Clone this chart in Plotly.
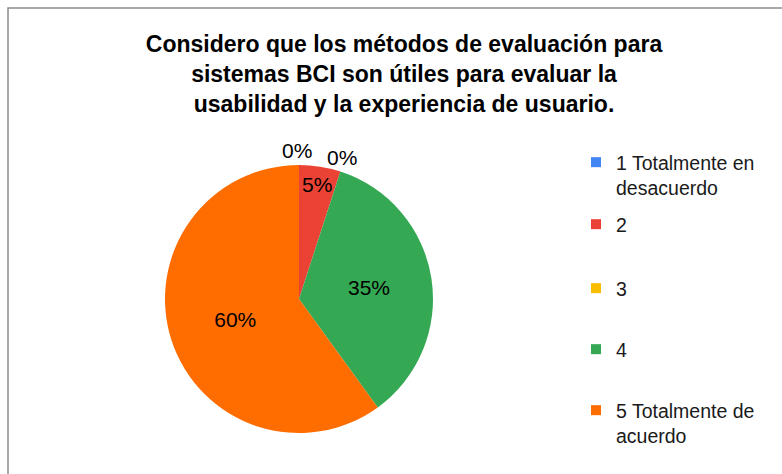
import numpy as np
import plotly.graph_objects as go

# Survey answers on a 1-5 agreement scale
categories = ["1 Totalmente en<br>desacuerdo", "2", "3", "4", "5 Totalmente de<br>acuerdo"]
shares = [0, 5, 0, 35, 60]
colors = ["#4285F4", "#EA4335", "#FBBC04", "#34A853", "#FF6D01"]
title_text = ("Considero que los métodos de evaluación para<br>"
              "sistemas BCI son útiles para evaluar la<br>"
              "usabilidad y la experiencia de usuario.")

W, H = 782, 474
FONT = "Liberation Sans, Arial, sans-serif"

# pie placement in pixels (left, right, top, bottom)
PIE_L, PIE_R, PIE_T, PIE_B = 165, 433, 165, 433

fig = go.Figure()

# non-zero answers carry their percentage inside the slice
inside_text = [f"{v / sum(shares):.0%}" if v > 0 else "" for v in shares]

fig.add_trace(go.Pie(
    labels=categories,
    values=shares,
    marker=dict(colors=colors, line=dict(width=0)),
    sort=False,
    direction="clockwise",
    rotation=0,
    text=inside_text,
    textinfo="text",
    textposition="inside",
    insidetextorientation="horizontal",
    textfont=dict(family=FONT, size=21, color="#000000"),
    showlegend=False,
    hoverinfo="label+percent",
    domain=dict(x=[PIE_L / W, PIE_R / W], y=[(H - PIE_B) / H, (H - PIE_T) / H]),
))

# zero answers have no slice area, so their label sits just outside the rim
# at the angle where that (empty) slice would be
cx, cy = (PIE_L + PIE_R) / 2, (PIE_T + PIE_B) / 2
radius = (PIE_R - PIE_L) / 2
start_deg = 360 * np.concatenate([[0], np.cumsum(shares)[:-1]]) / sum(shares)
annotations = []
for v, a in zip(shares, start_deg):
    if v != 0:
        continue
    t = np.radians(a)
    px = cx - 2 + (radius + 13) * np.sin(t)
    py = cy - (radius + 15) * np.cos(t)
    annotations.append(dict(
        text=f"{v / sum(shares):.0%}", x=px / W, y=1 - py / H,
        xref="paper", yref="paper", xanchor="center", yanchor="middle",
        showarrow=False, font=dict(family=FONT, size=21, color="#000000"),
    ))

# one legend box per answer so the entries can be spaced freely
legend_rows = [162, 224, 288, 349, 410]
legend_left = 576
for i, (name, col) in enumerate(zip(categories, colors)):
    key = "legend" if i == 0 else f"legend{i + 1}"
    fig.add_trace(go.Scatter(
        x=[None], y=[None], mode="markers", name=name,
        marker=dict(symbol="square", size=10, color=col),
        legend=key, showlegend=True, hoverinfo="skip",
    ))
    fig.layout[key] = dict(
        x=legend_left / W, xanchor="left",
        y=(H - legend_rows[i] + 19) / H, yanchor="top",
        valign="top",
        bgcolor="rgba(0,0,0,0)",
        font=dict(family=FONT, size=19.5, color="#1a1a1a"),
    )

fig.update_layout(
    width=W, height=H,
    margin=dict(l=0, r=0, t=0, b=0),
    paper_bgcolor="white",
    plot_bgcolor="white",
    title=dict(
        text=title_text,
        x=404 / W, xanchor="center",
        y=(H - 52) / H, yanchor="top",
        yref="container", xref="container",
        font=dict(family=FONT, size=23, color="#000000", weight="bold"),
    ),
    xaxis=dict(visible=False),
    yaxis=dict(visible=False),
    uniformtext=dict(minsize=21, mode="show"),
    annotations=annotations,
    shapes=[dict(
        type="rect", xref="paper", yref="paper",
        x0=8 / W, x1=1.02, y0=-0.02, y1=(H - 8) / H,
        line=dict(color="#8c8c8c", width=1.5),
        fillcolor="rgba(0,0,0,0)", layer="below",
    )],
)

fig.write_html("out.html")
